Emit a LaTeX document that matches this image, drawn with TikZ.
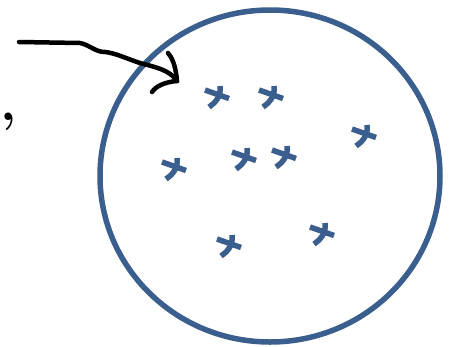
\documentclass[tikz,border=0pt]{standalone}
\usetikzlibrary{calc,shapes.geometric}
\definecolor{blu}{RGB}{58,94,141}
\tikzset{
  ring/.style={draw=blu,line width=5.5pt},
  ink/.style={draw=black,line width=4.5pt,line cap=round,line join=round},
  xmark/.pic={
    \draw[blu,line width=5.5pt] (-11,-6) -- (13,2.5);
    \draw[blu,line width=5.5pt] (4,-10) .. controls (5,-2) and (2,5) .. (-7,11);
  }
}
\begin{document}
\begin{tikzpicture}[x=1pt,y=-1pt]
\useasboundingbox (0,0) rectangle (450,346);
\node[ring,ellipse,minimum width=340pt,minimum height=332pt,inner sep=0pt] (circ) at (270,176) {};
\node[inner sep=0pt,font=\fontsize{52}{52}\selectfont\bfseries] (comma) at (9,122) {,};
\coordinate (start) at (19,42);
\coordinate (tip) at (177,81);
\draw[ink] (start) -- (80,43) .. controls (90,45) and (95,52) .. (105,52)
  .. controls (115,53) and (125,58) .. (140,63) .. controls (155,67) and (170,70) .. (tip);
\draw[ink] (168,53) .. controls (174,60) and (176,70) .. (tip);
\draw[ink] (152,92) .. controls (156,86) and (165,82) .. (tip);
\foreach \p in {(216,96),(270,96),(363,135),(173,168),(243,158),(283,156),(228,245),(321,233)}
  \pic at \p {xmark};
\end{tikzpicture}
\end{document}
